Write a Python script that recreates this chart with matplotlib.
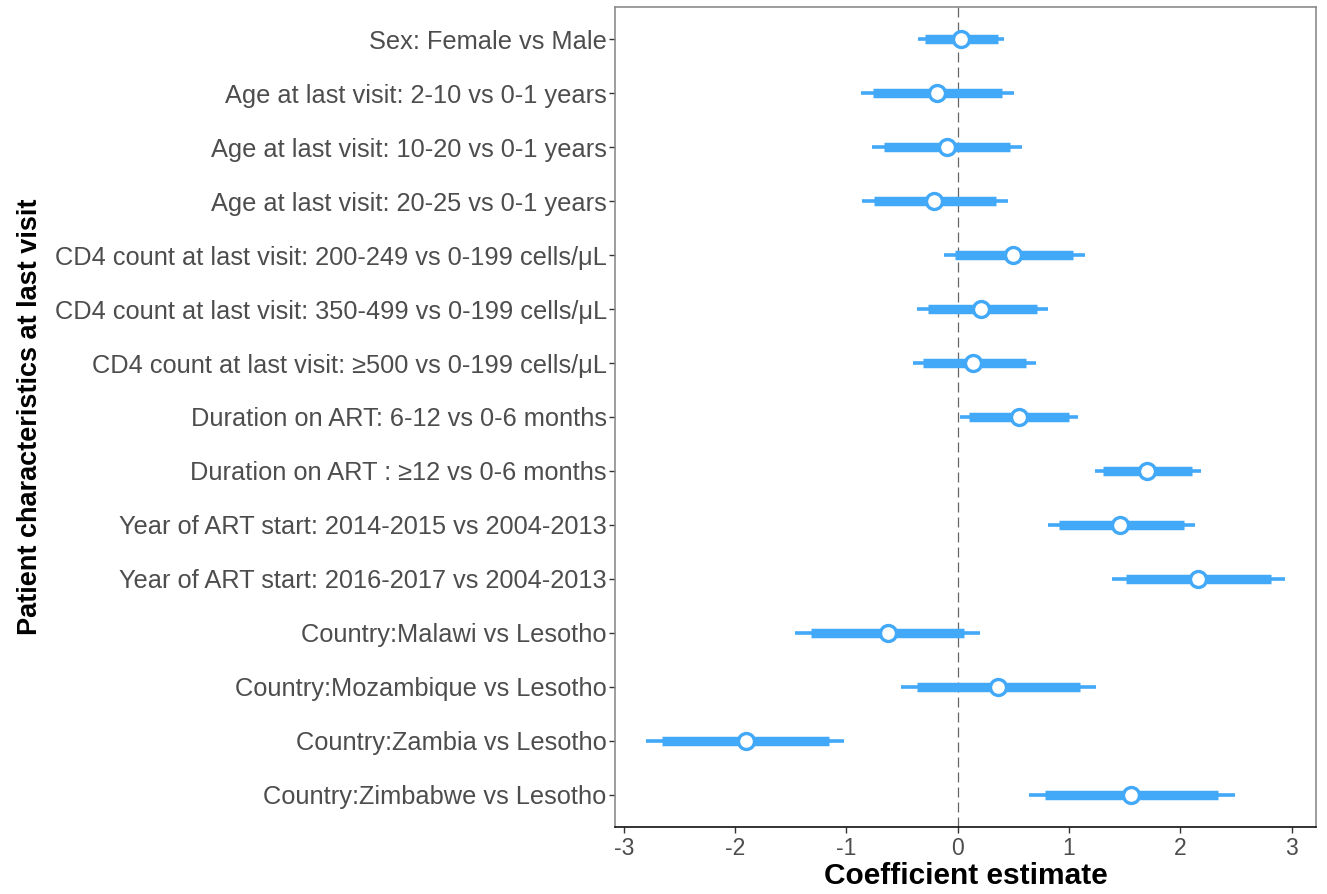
import matplotlib
matplotlib.use('Agg')
import matplotlib.pyplot as plt
import numpy as np

plt.rcParams['font.family'] = ['Liberation Sans', 'DejaVu Sans']

# terms, top to bottom
terms = ['Sex: Female vs Male',
         'Age at last visit: 2-10 vs 0-1 years',
         'Age at last visit: 10-20 vs 0-1 years',
         'Age at last visit: 20-25 vs 0-1 years',
         'CD4 count at last visit: 200-249 vs 0-199 cells/μL',
         'CD4 count at last visit: 350-499 vs 0-199 cells/μL',
         'CD4 count at last visit: ≥500 vs 0-199 cells/μL',
         'Duration on ART: 6-12 vs 0-6 months',
         'Duration on ART : ≥12 vs 0-6 months',
         'Year of ART start: 2014-2015 vs 2004-2013',
         'Year of ART start: 2016-2017 vs 2004-2013',
         'Country:Malawi vs Lesotho',
         'Country:Mozambique vs Lesotho',
         'Country:Zambia vs Lesotho',
         'Country:Zimbabwe vs Lesotho']

estimate = [0.03, -0.19, -0.10, -0.21, 0.50, 0.21, 0.14, 0.55, 1.70, 1.46, 2.16, -0.63, 0.36, -1.90, 1.56]
# outer interval
outer_lo = [-0.36, -0.87, -0.77, -0.86, -0.12, -0.37, -0.40, 0.02, 1.23, 0.81, 1.39, -1.46, -0.51, -2.80, 0.64]
outer_hi = [0.42, 0.51, 0.58, 0.45, 1.14, 0.81, 0.70, 1.08, 2.19, 2.13, 2.94, 0.20, 1.24, -1.02, 2.49]
# inner interval
inner_lo = [-0.29, -0.76, -0.66, -0.75, -0.02, -0.27, -0.31, 0.10, 1.31, 0.91, 1.51, -1.32, -0.37, -2.66, 0.78]
inner_hi = [0.36, 0.40, 0.47, 0.34, 1.04, 0.71, 0.61, 1.00, 2.11, 2.03, 2.82, 0.06, 1.10, -1.16, 2.34]

xticks = [-3, -2, -1, 0, 1, 2, 3]

blue = '#42A8F8'
txt = '#4D4D4D'

fig = plt.figure(figsize=(13.27, 8.94), dpi=100)
ax = fig.add_axes([615/1327, 1-827/894, (1316-615)/1327, (827-7)/894])

y = np.arange(len(terms))[::-1]

ax.axvline(0, color='#666666', lw=0.9, ls=(0, (8, 4)), zorder=1)
ax.hlines(y, outer_lo, outer_hi, color=blue, lw=2.6, zorder=2)
ax.hlines(y, inner_lo, inner_hi, color=blue, lw=6.8, zorder=3)
ax.plot(estimate, y, 'o', ms=11.5, mfc='white', mec=blue, mew=2.4, zorder=4, ls='none')

ax.set_xlim(-3.08, 3.22)
ax.set_ylim(-0.6, len(terms) - 0.4)
ax.set_yticks(y)
ax.set_yticklabels(terms)
ax.set_xticks(xticks)
ax.set_xticklabels([str(t) for t in xticks])
ax.tick_params(axis='y', labelsize=18.3, labelcolor=txt, color='#333333', length=4, width=1, pad=2)
ax.tick_params(axis='x', labelsize=16.5, labelcolor=txt, color='#333333', length=4, width=1, pad=3)

for s in ['top', 'right', 'left']:
    ax.spines[s].set_color('#8C8C8C')
    ax.spines[s].set_linewidth(1.2)
ax.spines['bottom'].set_color('#111111')
ax.spines['bottom'].set_linewidth(1.2)

ax.set_xlabel('Coefficient estimate', fontsize=21.5, fontweight='bold', va='center')
ax.xaxis.set_label_coords(0.5, (827-876)/820)
ax.set_ylabel('Patient characteristics at last visit', fontsize=19.5, fontweight='bold', va='center')
ax.yaxis.set_label_coords((30-615)/701, 0.5)

fig.savefig('out.png', dpi=100)
